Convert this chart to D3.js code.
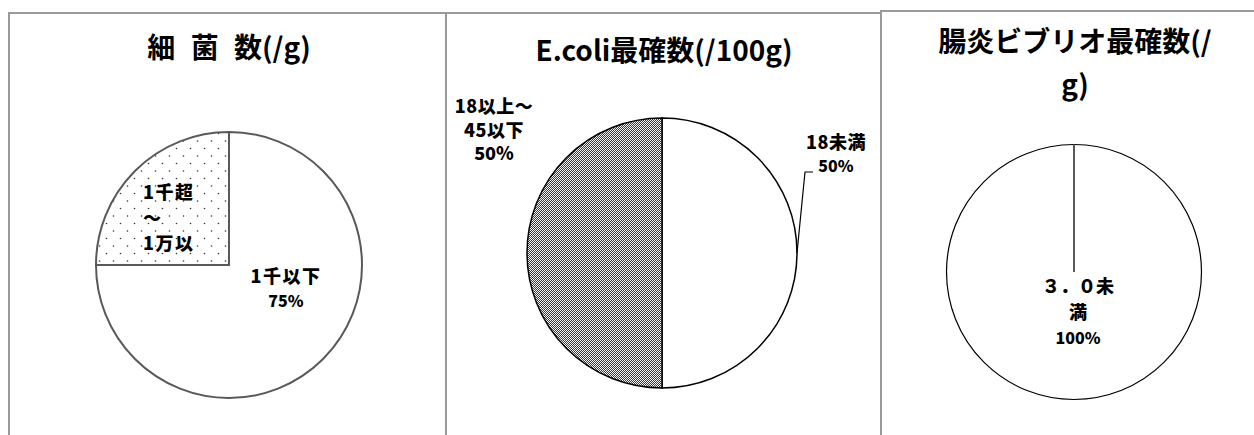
<!DOCTYPE html>
<html><head><meta charset="utf-8">
<script src="https://cdn.jsdelivr.net/npm/d3@7"></script>
<style>
html,body{margin:0;padding:0;background:#fff;}
svg{display:block;}
text{font-family:"Noto Sans CJK JP","Noto Sans",sans-serif;font-weight:700;fill:#000;}
text.lbl{font-weight:900;}
</style></head>
<body>
<svg id="chart" width="1254" height="435"></svg>
<script>
// ---- data ----
const titles = [["細 菌 数(/g)"], ["E.coli最確数(/100g)"], ["腸炎ビブリオ最確数(/", "g)"]];
const bacteriaCategories = ["1千以下", "1千超～1万以"];
const bacteriaValues = [75, 25];
const bacteriaLabelLines = [["1千以下"], ["1千超", "～", "1万以"]];
const bacteriaShowPct = [true, false];
const ecoliCategories = ["18未満", "18以上～45以下"];
const ecoliValues = [50, 50];
const ecoliLabelLines = [["18未満"], ["18以上～", "45以下"]];
const ecoliShowPct = [true, true];
const vibrioCategories = ["３．０未満"];
const vibrioValues = [100];
const vibrioLabelLines = [["３．０未", "満"]];
const vibrioShowPct = [true];

// ---- layout ----
const svg = d3.select("#chart");
const defs = svg.append("defs");
const dots = defs.append("pattern").attr("id","dots").attr("patternUnits","userSpaceOnUse")
  .attr("width",14).attr("height",15);
dots.append("rect").attr("width",14).attr("height",15).attr("fill","#fff");
dots.append("circle").attr("cx",3.5).attr("cy",3.5).attr("r",0.8).attr("fill","#333");
dots.append("circle").attr("cx",10.5).attr("cy",11).attr("r",0.8).attr("fill","#333");
const chk = defs.append("pattern").attr("id","checker").attr("patternUnits","userSpaceOnUse")
  .attr("width",2).attr("height",2);
chk.append("rect").attr("width",2).attr("height",2).attr("fill","#f4f4f4");
chk.append("rect").attr("width",1).attr("height",1).attr("fill","#3a3a3a").attr("shape-rendering","crispEdges");
chk.append("rect").attr("x",1).attr("y",1).attr("width",1).attr("height",1).attr("fill","#3a3a3a").attr("shape-rendering","crispEdges");

// panel borders
const panels = [{x0:9,x1:446,top:13},{x0:446,x1:881,top:13},{x0:881,x1:1256,top:11}];
panels.forEach(p=>{
  svg.append("path")
    .attr("d",`M${p.x0},440 L${p.x0},${p.top} L${p.x1},${p.top} L${p.x1},440`)
    .attr("fill","none").attr("stroke","#9a9a9a").attr("stroke-width",2);
});

const charts = [
  {cats:bacteriaCategories, vals:bacteriaValues, lines:bacteriaLabelLines, pct:bacteriaShowPct,
   fills:["#fff","url(#dots)"], stroke:"#595959", sw:2,
   cx:229, cy:265, r:133, title:titles[0], tx:229, ty:[46],
   labels:[{x:286,y:275,size:18,pctSize:16,anchor:"middle",dy:25,ls:1.5},
           {x:143,y:191,size:18,anchor:"start",dy:25.5,ls:1.5}]},
  {cats:ecoliCategories, vals:ecoliValues, lines:ecoliLabelLines, pct:ecoliShowPct,
   fills:["#fff","url(#checker)"], stroke:"#000", sw:1.5,
   cx:662, cy:253, r:135, title:titles[1], tx:664, ty:[49],
   labels:[{x:836,y:141,size:18,pctSize:16,anchor:"middle",dy:24,ls:0.5, leader:true},
           {x:494,y:105,size:18,pctSize:18,anchor:"middle",dy:23.5,ls:0.5}]},
  {cats:vibrioCategories, vals:vibrioValues, lines:vibrioLabelLines, pct:vibrioShowPct,
   fills:["#fff"], stroke:"#000", sw:1.2,
   cx:1074, cy:272, r:127.5, title:titles[2], tx:1075, ty:[40, 83],
   labels:[{x:1078,y:285,size:18,pctSize:16,anchor:"middle",dy:26,ls:0}]}
];

const pie = d3.pie().sort(null).value(d=>d);
charts.forEach(c=>{
  // title
  c.title.forEach((t,i)=>{
    svg.append("text").attr("x",c.tx).attr("y",c.ty[i]).attr("text-anchor","middle")
      .attr("dominant-baseline","central").attr("font-size",28)
      .style("white-space","pre").attr("word-spacing", t.includes(" ")?9:0).text(t);
  });
  const g = svg.append("g").attr("transform",`translate(${c.cx},${c.cy})`);
  const arcs = pie(c.vals);
  const arc = d3.arc().innerRadius(0).outerRadius(c.r);
  g.selectAll("path.slice").data(arcs).join("path").attr("class","slice")
    .attr("d",arc).attr("fill",(d,i)=>c.fills[i])
    .attr("stroke",c.stroke).attr("stroke-width",c.sw).attr("stroke-linejoin","miter");
  // full-circle slice boundary (Excel draws the radius for a 100% slice)
  arcs.filter(a=>a.endAngle-a.startAngle>=2*Math.PI-1e-6).forEach(a=>{
    g.append("line").attr("x1",0).attr("y1",0)
      .attr("x2",c.r*Math.sin(a.startAngle)).attr("y2",-c.r*Math.cos(a.startAngle))
      .attr("stroke","#595959").attr("stroke-width",2);
  });
  const total = d3.sum(c.vals);
  arcs.forEach((a,i)=>{
    const L = c.labels[i];
    const lines = c.lines[i].slice();
    lines.forEach((ln,j)=>{
      svg.append("text").attr("class","lbl").attr("text-anchor",L.anchor).attr("dominant-baseline","central")
        .attr("x",L.x).attr("y",L.y+j*L.dy).attr("font-size",L.size)
        .attr("letter-spacing",L.ls).text(ln);
    });
    if (c.pct[i]) {
      const p = Math.round(c.vals[i]/total*100)+"%";
      svg.append("text").attr("class","lbl").attr("text-anchor",L.anchor).attr("dominant-baseline","central")
        .attr("x",L.x).attr("y",L.y+lines.length*L.dy).attr("font-size",L.pctSize).text(p);
    }
    if (L.leader) {
      const mid = (a.startAngle+a.endAngle)/2;
      const sx = c.cx + c.r*Math.sin(mid), sy = c.cy - c.r*Math.cos(mid);
      const ly = L.y + L.dy*lines.length + 7;
      svg.append("path").attr("d",`M${sx},${sy} L${sx+8},${ly} L${sx+16},${ly}`)
        .attr("fill","none").attr("stroke","#000").attr("stroke-width",1.2);
    }
  });
});
</script>
</body></html>
